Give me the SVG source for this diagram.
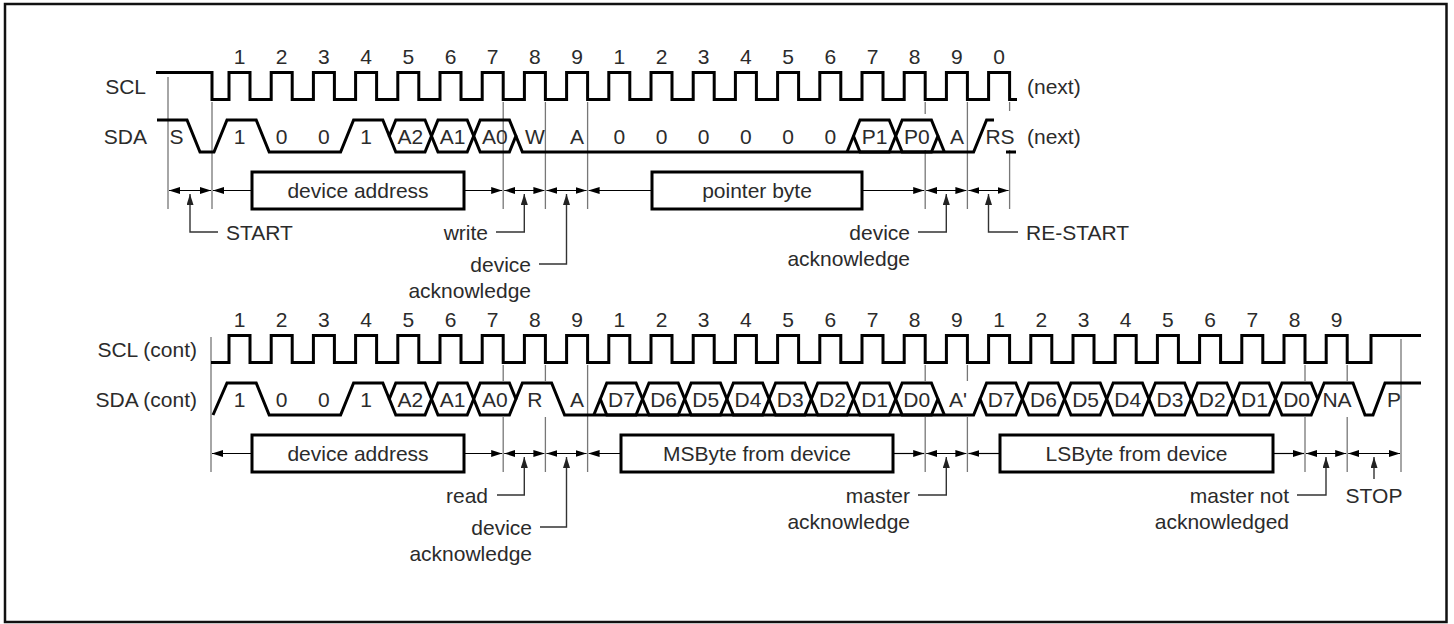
<svg xmlns="http://www.w3.org/2000/svg" width="1454" height="624" viewBox="0 0 1454 624">
<defs>
<style>
.w{fill:none;stroke:#000;stroke-width:3;stroke-linejoin:miter;stroke-miterlimit:2}
.g{fill:none;stroke:#777;stroke-width:1.3}
.a{fill:none;stroke:#000;stroke-width:1.2}
.ld{fill:none;stroke:#333;stroke-width:1.4}
.bx{fill:#fff;stroke:#000;stroke-width:3}
text{font-family:"Liberation Sans",Arial,sans-serif;font-size:21px;fill:#2b2b2b}
.m{text-anchor:middle}
.e{text-anchor:end}
</style>
<marker id="ah" viewBox="0 0 11 7" refX="11" refY="3.5" markerWidth="11" markerHeight="7" markerUnits="userSpaceOnUse" orient="auto-start-reverse"><path d="M0,0 L11,3.5 L0,7 Z" fill="#000"/></marker>
<marker id="au" viewBox="0 0 11 7" refX="11" refY="3.5" markerWidth="11" markerHeight="7" markerUnits="userSpaceOnUse" orient="auto-start-reverse"><path d="M0,0 L11,3.5 L0,7 Z" fill="#222"/></marker>
</defs>
<rect x="5" y="4" width="1441.5" height="618" fill="#fff" stroke="#111" stroke-width="2.5"/>

<g id="top">
<g id="top-grid">
<path class="g" d="M168,77V209M212,102V209M503.2,102V209M545.4,102V209M587.6,102V209M925.2,102V114M925.2,150V209M967.4,102V209M1009.6,102V111M1009.6,150V209"/>
</g>
<g id="top-scl">
<text class="e" x="146" y="93.5">SCL</text>
<path class="w" d="M156,72.5H212V99.5H229V72.5H250V99.5H271.2V72.5H292.2V99.5H313.4V72.5H334.4V99.5H355.6V72.5H376.6V99.5H397.8V72.5H418.8V99.5H440V72.5H461V99.5H482.2V72.5H503.2V99.5H524.4V72.5H545.4V99.5H566.6V72.5H587.6V99.5H608.8V72.5H629.8V99.5H651V72.5H672V99.5H693.2V72.5H714.2V99.5H735.4V72.5H756.4V99.5H777.6V72.5H798.6V99.5H819.8V72.5H840.8V99.5H862V72.5H883V99.5H904.2V72.5H925.2V99.5H946.4V72.5H967.4V99.5H988.6V72.5H1009.6V99.5H1017"/>
<text x="1027" y="93.5">(next)</text>
<g class="m">
<text x="239.5" y="64" class="m">1</text><text x="281.7" y="64" class="m">2</text><text x="323.9" y="64" class="m">3</text><text x="366.1" y="64" class="m">4</text><text x="408.3" y="64" class="m">5</text><text x="450.5" y="64" class="m">6</text><text x="492.7" y="64" class="m">7</text><text x="534.9" y="64" class="m">8</text><text x="577.1" y="64" class="m">9</text>
<text x="619.3" y="64" class="m">1</text><text x="661.5" y="64" class="m">2</text><text x="703.7" y="64" class="m">3</text><text x="745.9" y="64" class="m">4</text><text x="788.1" y="64" class="m">5</text><text x="830.3" y="64" class="m">6</text><text x="872.5" y="64" class="m">7</text><text x="914.7" y="64" class="m">8</text><text x="956.9" y="64" class="m">9</text><text x="999.1" y="64" class="m">0</text>
</g>
</g>
<g id="top-sda">
<text class="e" x="147" y="143.5">SDA</text>
<path class="w" d="M157,120H187L200,152H214L227,120H256.2L269.2,152H340.6L353.6,120H382.8L389.3,136"/>
<path class="w" d="M389.3,136L395.8,120H425L431.5,136L425,152H395.8Z"/>
<path class="w" d="M431.5,136L438,120H467.2L473.7,136L467.2,152H438Z"/>
<path class="w" d="M473.7,136L480.2,120H509.4L515.9,136L509.4,152H480.2Z"/>
<path class="w" d="M515.9,136L522.4,152H973.6L986.6,120H994"/>
<path class="w" d="M847,152L853.5,136"/>
<path class="w" d="M853.5,136L860,120H889.2L895.7,136L889.2,152H860Z"/>
<path class="w" d="M895.7,136L902.2,120H931.4L937.9,136L931.4,152H902.2Z"/>
<path class="w" d="M937.9,136L944.4,152"/>
<path class="w" d="M1006,152H1016"/>
<text x="176.5" y="143.5" class="m">S</text>
<text x="239.5" y="143.5" class="m">1</text><text x="281.7" y="143.5" class="m">0</text><text x="323.9" y="143.5" class="m">0</text><text x="366.1" y="143.5" class="m">1</text>
<text x="410.4" y="143.5" class="m">A2</text><text x="452.6" y="143.5" class="m">A1</text><text x="494.8" y="143.5" class="m">A0</text>
<text x="534.9" y="143.5" class="m">W</text><text x="577.1" y="143.5" class="m">A</text>
<text x="619.3" y="143.5" class="m">0</text><text x="661.5" y="143.5" class="m">0</text><text x="703.7" y="143.5" class="m">0</text><text x="745.9" y="143.5" class="m">0</text><text x="788.1" y="143.5" class="m">0</text><text x="830.3" y="143.5" class="m">0</text>
<text x="874.6" y="143.5" class="m">P1</text><text x="916.8" y="143.5" class="m">P0</text>
<text x="956.9" y="143.5" class="m">A</text><text x="1000" y="143.5" class="m">RS</text>
<text x="1027" y="143.5">(next)</text>
</g>
<g id="top-connectors">
<line class="a" x1="169" y1="190.5" x2="211" y2="190.5" marker-start="url(#ah)" marker-end="url(#ah)"/>
<line class="a" x1="213" y1="190.5" x2="252" y2="190.5" marker-start="url(#ah)"/>
<line class="a" x1="464" y1="190.5" x2="502.2" y2="190.5" marker-end="url(#ah)"/>
<line class="a" x1="504.2" y1="190.5" x2="544.4" y2="190.5" marker-start="url(#ah)" marker-end="url(#ah)"/>
<line class="a" x1="546.4" y1="190.5" x2="586.6" y2="190.5" marker-start="url(#ah)" marker-end="url(#ah)"/>
<line class="a" x1="588.6" y1="190.5" x2="652" y2="190.5" marker-start="url(#ah)"/>
<line class="a" x1="862" y1="190.5" x2="924.2" y2="190.5" marker-end="url(#ah)"/>
<line class="a" x1="926.2" y1="190.5" x2="966.4" y2="190.5" marker-start="url(#ah)" marker-end="url(#ah)"/>
<line class="a" x1="968.4" y1="190.5" x2="1008.6" y2="190.5" marker-start="url(#ah)" marker-end="url(#ah)"/>
<path class="ld" d="M190,194V232H218" marker-start="url(#au)"/>
<path class="ld" d="M524.3,194V232H496" marker-start="url(#au)"/>
<path class="ld" d="M566.5,194V264H539" marker-start="url(#au)"/>
<path class="ld" d="M946.3,194V232H918" marker-start="url(#au)"/>
<path class="ld" d="M988.5,194V232H1018" marker-start="url(#au)"/>
</g>
<g id="box-device-address-1">
<rect class="bx" x="252" y="172" width="212" height="37"/>
<text class="m" x="358" y="198">device address</text>
</g>
<g id="box-pointer-byte">
<rect class="bx" x="652" y="172" width="210" height="37"/>
<text class="m" x="757" y="198">pointer byte</text>
</g>
<g id="top-labels">
<text x="226" y="239.5">START</text>
<text class="e" x="488" y="239.5">write</text>
<text class="e" x="531" y="271.5">device</text>
<text class="e" x="531" y="297.5">acknowledge</text>
<text class="e" x="910" y="239.5">device</text>
<text class="e" x="910" y="265.5">acknowledge</text>
<text x="1026" y="239.5">RE-START</text>
</g>
</g>

<g id="bottom" transform="translate(0,263)">
<g id="bottom-grid">
<path class="g" d="M211,74V209M503.2,102V118M503.2,154V209M545.4,102V118M545.4,154V209M587.6,102V209M925.2,102V118M925.2,154V209M967.4,102V118M967.4,154V209M1305,102V118M1305,154V209M1347.2,102V118M1347.2,154V209M1401,76V209"/>
</g>
<g id="bottom-scl">
<text class="e" x="197" y="93.5">SCL (cont)</text>
<path class="w" d="M211,99.5H229V72.5H250V99.5H271.2V72.5H292.2V99.5H313.4V72.5H334.4V99.5H355.6V72.5H376.6V99.5H397.8V72.5H418.8V99.5H440V72.5H461V99.5H482.2V72.5H503.2V99.5H524.4V72.5H545.4V99.5H566.6V72.5H587.6V99.5H608.8V72.5H629.8V99.5H651V72.5H672V99.5H693.2V72.5H714.2V99.5H735.4V72.5H756.4V99.5H777.6V72.5H798.6V99.5H819.8V72.5H840.8V99.5H862V72.5H883V99.5H904.2V72.5H925.2V99.5H946.4V72.5H967.4V99.5H988.6V72.5H1009.6V99.5H1030.8V72.5H1051.8V99.5H1073V72.5H1094V99.5H1115.2V72.5H1136.2V99.5H1157.4V72.5H1178.4V99.5H1199.6V72.5H1220.6V99.5H1241.8V72.5H1262.8V99.5H1284V72.5H1305V99.5H1326.2V72.5H1347.2V99.5H1371V72.5H1421"/>
<text x="239.5" y="64" class="m">1</text><text x="281.7" y="64" class="m">2</text><text x="323.9" y="64" class="m">3</text><text x="366.1" y="64" class="m">4</text><text x="408.3" y="64" class="m">5</text><text x="450.5" y="64" class="m">6</text><text x="492.7" y="64" class="m">7</text><text x="534.9" y="64" class="m">8</text><text x="577.1" y="64" class="m">9</text>
<text x="619.3" y="64" class="m">1</text><text x="661.5" y="64" class="m">2</text><text x="703.7" y="64" class="m">3</text><text x="745.9" y="64" class="m">4</text><text x="788.1" y="64" class="m">5</text><text x="830.3" y="64" class="m">6</text><text x="872.5" y="64" class="m">7</text><text x="914.7" y="64" class="m">8</text><text x="956.9" y="64" class="m">9</text>
<text x="999.1" y="64" class="m">1</text><text x="1041.3" y="64" class="m">2</text><text x="1083.5" y="64" class="m">3</text><text x="1125.7" y="64" class="m">4</text><text x="1167.9" y="64" class="m">5</text><text x="1210.1" y="64" class="m">6</text><text x="1252.3" y="64" class="m">7</text><text x="1294.5" y="64" class="m">8</text><text x="1336.7" y="64" class="m">9</text>
</g>
<g id="bottom-sda">
<text class="e" x="197" y="143.5">SDA (cont)</text>
<path class="w" d="M213,152L227,120H256.2L269.2,152H340.6L353.6,120H382.8L389.3,136"/>
<path class="w" d="M389.3,136L395.8,120H425L431.5,136L425,152H395.8Z"/>
<path class="w" d="M431.5,136L438,120H467.2L473.7,136L467.2,152H438Z"/>
<path class="w" d="M473.7,136L480.2,120H509.4L515.9,136L509.4,152H480.2Z"/>
<path class="w" d="M515.9,136L522.4,120H551.6L564.6,152H973.6L980.1,136"/>
<path class="w" d="M593.8,152L600.3,136"/>
<path class="w" d="M600.3,136L606.8,120H636L642.5,136L636,152H606.8Z"/>
<path class="w" d="M642.5,136L649,120H678.2L684.7,136L678.2,152H649Z"/>
<path class="w" d="M684.7,136L691.2,120H720.4L726.9,136L720.4,152H691.2Z"/>
<path class="w" d="M726.9,136L733.4,120H762.6L769.1,136L762.6,152H733.4Z"/>
<path class="w" d="M769.1,136L775.6,120H804.8L811.3,136L804.8,152H775.6Z"/>
<path class="w" d="M811.3,136L817.8,120H847L853.5,136L847,152H817.8Z"/>
<path class="w" d="M853.5,136L860,120H889.2L895.7,136L889.2,152H860Z"/>
<path class="w" d="M895.7,136L902.2,120H931.4L937.9,136L931.4,152H902.2Z"/>
<path class="w" d="M937.9,136L944.4,152"/>
<path class="w" d="M980.1,136L986.6,120H1015.8L1022.3,136L1015.8,152H986.6Z"/>
<path class="w" d="M1022.3,136L1028.8,120H1058L1064.5,136L1058,152H1028.8Z"/>
<path class="w" d="M1064.5,136L1071,120H1100.2L1106.7,136L1100.2,152H1071Z"/>
<path class="w" d="M1106.7,136L1113.2,120H1142.4L1148.9,136L1142.4,152H1113.2Z"/>
<path class="w" d="M1148.9,136L1155.4,120H1184.6L1191.1,136L1184.6,152H1155.4Z"/>
<path class="w" d="M1191.1,136L1197.6,120H1226.8L1233.3,136L1226.8,152H1197.6Z"/>
<path class="w" d="M1233.3,136L1239.8,120H1269L1275.5,136L1269,152H1239.8Z"/>
<path class="w" d="M1275.5,136L1282,120H1311.2L1317.7,136L1311.2,152H1282Z"/>
<path class="w" d="M1317.7,136L1324.2,120H1353L1365,152H1373L1385,120H1421"/>
<text x="239.5" y="143.5" class="m">1</text><text x="281.7" y="143.5" class="m">0</text><text x="323.9" y="143.5" class="m">0</text><text x="366.1" y="143.5" class="m">1</text>
<text x="410.4" y="143.5" class="m">A2</text><text x="452.6" y="143.5" class="m">A1</text><text x="494.8" y="143.5" class="m">A0</text>
<text x="534.9" y="143.5" class="m">R</text><text x="577.1" y="143.5" class="m">A</text>
<text x="621.4" y="143.5" class="m">D7</text><text x="663.6" y="143.5" class="m">D6</text><text x="705.8" y="143.5" class="m">D5</text><text x="748" y="143.5" class="m">D4</text><text x="790.2" y="143.5" class="m">D3</text><text x="832.4" y="143.5" class="m">D2</text><text x="874.6" y="143.5" class="m">D1</text><text x="916.8" y="143.5" class="m">D0</text>
<text x="958" y="143.5" class="m">A'</text>
<text x="1001.2" y="143.5" class="m">D7</text><text x="1043.4" y="143.5" class="m">D6</text><text x="1085.6" y="143.5" class="m">D5</text><text x="1127.8" y="143.5" class="m">D4</text><text x="1170" y="143.5" class="m">D3</text><text x="1212.2" y="143.5" class="m">D2</text><text x="1254.4" y="143.5" class="m">D1</text><text x="1296.6" y="143.5" class="m">D0</text>
<text x="1337" y="143.5" class="m">NA</text>
<text x="1394" y="143.5" class="m">P</text>
</g>
<g id="bottom-connectors">
<line class="a" x1="212" y1="190.5" x2="252" y2="190.5" marker-start="url(#ah)"/>
<line class="a" x1="464" y1="190.5" x2="502.2" y2="190.5" marker-end="url(#ah)"/>
<line class="a" x1="504.2" y1="190.5" x2="544.4" y2="190.5" marker-start="url(#ah)" marker-end="url(#ah)"/>
<line class="a" x1="546.4" y1="190.5" x2="586.6" y2="190.5" marker-start="url(#ah)" marker-end="url(#ah)"/>
<line class="a" x1="588.6" y1="190.5" x2="621" y2="190.5" marker-start="url(#ah)"/>
<line class="a" x1="893" y1="190.5" x2="924.2" y2="190.5" marker-end="url(#ah)"/>
<line class="a" x1="926.2" y1="190.5" x2="966.4" y2="190.5" marker-start="url(#ah)" marker-end="url(#ah)"/>
<line class="a" x1="968.4" y1="190.5" x2="1000" y2="190.5" marker-start="url(#ah)"/>
<line class="a" x1="1273" y1="190.5" x2="1304" y2="190.5" marker-end="url(#ah)"/>
<line class="a" x1="1306" y1="190.5" x2="1346.2" y2="190.5" marker-start="url(#ah)" marker-end="url(#ah)"/>
<line class="a" x1="1348.2" y1="190.5" x2="1400" y2="190.5" marker-start="url(#ah)" marker-end="url(#ah)"/>
<path class="ld" d="M524.3,194V232H497" marker-start="url(#au)"/>
<path class="ld" d="M566.5,194V264H540" marker-start="url(#au)"/>
<path class="ld" d="M946.3,194V232H918" marker-start="url(#au)"/>
<path class="ld" d="M1326,194V232H1297" marker-start="url(#au)"/>
<path class="ld" d="M1374,194V216" marker-start="url(#au)"/>
</g>
<g id="box-device-address-2">
<rect class="bx" x="252" y="172" width="212" height="37"/>
<text class="m" x="358" y="198">device address</text>
</g>
<g id="box-msbyte">
<rect class="bx" x="621" y="172" width="272" height="37"/>
<text class="m" x="757" y="198">MSByte from device</text>
</g>
<g id="box-lsbyte">
<rect class="bx" x="1000" y="172" width="273" height="37"/>
<text class="m" x="1136.5" y="198">LSByte from device</text>
</g>
<g id="bottom-labels">
<text class="e" x="488" y="239.5">read</text>
<text class="e" x="532" y="271.5">device</text>
<text class="e" x="532" y="297.5">acknowledge</text>
<text class="e" x="910" y="239.5">master</text>
<text class="e" x="910" y="265.5">acknowledge</text>
<text class="e" x="1289" y="239.5">master not</text>
<text class="e" x="1289" y="265.5">acknowledged</text>
<text class="m" x="1374" y="239.5">STOP</text>
</g>
</g>
</svg>
